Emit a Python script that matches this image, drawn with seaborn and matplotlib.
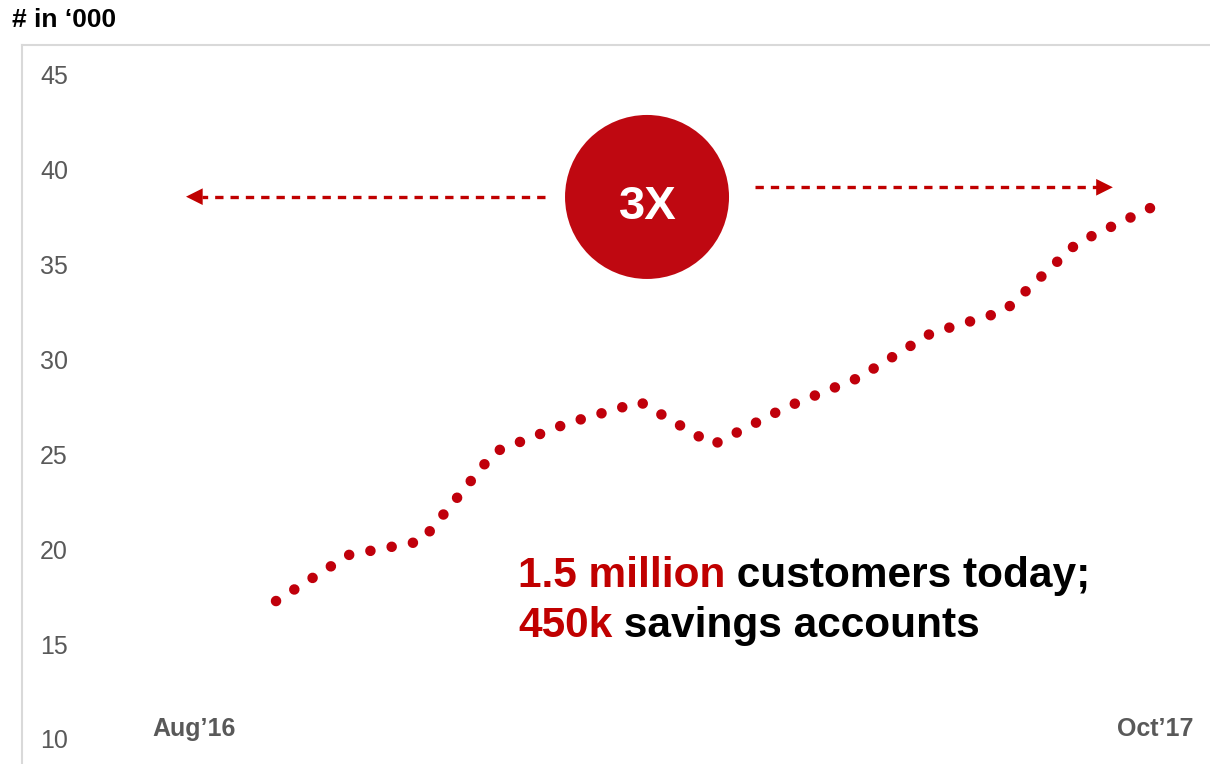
import numpy as np
import pandas as pd
import matplotlib
matplotlib.use("Agg")
import matplotlib.pyplot as plt
import matplotlib.transforms as mtransforms
from matplotlib.patches import Ellipse
import seaborn as sns

# ---- data ----
period = list(range(13))
customers = [17.27, 19.70, 20.43, 25.13, 26.64, 27.76, 25.51,
             27.48, 29.04, 31.40, 32.55, 36.14, 37.98]
y_ticks = [10, 15, 20, 25, 30, 35, 40, 45]
x_labels = ["Aug\u201916", "Oct\u201917"]
x_label_pos = [-1.126, 12.07]
unit_label = "# in \u2018000"
badge_text = "3X"
line1 = ["1.5 million", " customers today;"]
line2 = ["450k", " savings accounts"]

RED = "#C00000"
DOT = "#C0000B"
GREY = "#595959"

sns.set_theme(style="white")
plt.rcParams["font.family"] = ["Liberation Sans", "DejaVu Sans"]

fig = plt.figure(figsize=(12.1, 7.64), dpi=100)
ax = fig.add_axes([22 / 1210, 0, 1188 / 1210, 719 / 764])

df = pd.DataFrame({"period": period, "customers": customers})
LW = 7.6
sns.lineplot(data=df, x="period", y="customers", ax=ax, color=DOT,
             linewidth=LW)

ax.set_xlim(-3.488, 12.824)
ax.set_ylim(8.68, 46.58)

# dotted pattern: dots evenly spaced so both ends carry a dot
ln = ax.lines[0]
pts = ax.transData.transform(np.column_stack([ln.get_xdata(), ln.get_ydata()]))
L = np.sum(np.hypot(*np.diff(pts, axis=0).T))
n = max(1, round(L / 21.6))
period_px = L / n
lw_px = LW * fig.dpi / 72
ln.set_linestyle((0, (0.001, period_px / lw_px - 0.001)))
ln.set_dash_capstyle("round")

ax.set_yticks(y_ticks)
ax.set_yticklabels([str(v) for v in y_ticks], fontsize=18, color=GREY)
for lbl in ax.get_yticklabels():
    lbl.set_horizontalalignment("left")
ax.tick_params(axis="y", length=0, pad=-13)
ax.set_xticks([])
ax.set_xlabel("")
ax.set_ylabel("")
ax.grid(False)
for s in ["right", "bottom"]:
    ax.spines[s].set_visible(False)
for s in ["left", "top"]:
    ax.spines[s].set_color("#D9D9D9")
    ax.spines[s].set_linewidth(1.5)

# x labels inside the axes
trans = mtransforms.blended_transform_factory(ax.transData, ax.transAxes)
for pos, lab in zip(x_label_pos, x_labels):
    ax.text(pos, 0.0487, lab, transform=trans, ha="center", va="center",
            fontsize=18, fontweight="bold", color=GREY)

# unit label
fig.text(12 / 1210, 1 - 20 / 764, unit_label, fontsize=19, fontweight="bold",
         color="black", ha="left", va="center")

# badge circle
ax.add_patch(Ellipse((5.094, 38.57), 164 / 72.83, 164 / 18.97,
                     facecolor="#BF0811", edgecolor="none", zorder=3))
ax.text(5.10, 37.425, badge_text, ha="center", va="baseline", fontsize=34,
        fontweight="bold", color="white", zorder=4)

# dashed arrows
def dashed_arrow(x0, x1, y, tip):
    ax.plot([x0, x1], [y, y], color=RED, lw=2.4,
            linestyle=(0, (2.5, 2.1)), solid_capstyle="butt")
    ax.annotate("", xy=(tip, y), xytext=(x1, y),
                arrowprops=dict(arrowstyle="-|>,head_length=0.6,head_width=0.3",
                                mutation_scale=20, color=RED, lw=0,
                                shrinkA=0, shrinkB=0))

dashed_arrow(3.694, -1.01, 38.585, -1.236)
dashed_arrow(6.577, 11.27, 39.08, 11.49)

# statement text
def two_color(x, y, parts):
    t = ax.text(x, y, parts[0], color=RED, fontsize=30.5, fontweight="bold",
                ha="left", va="baseline")
    ax.annotate(parts[1], xy=(1, 0), xycoords=t, color="black", fontsize=30.5,
                fontweight="bold", ha="left", va="bottom")

two_color(3.323, 18.03, line1)
two_color(3.323, 15.37, line2)

fig.savefig("out.png", dpi=100)
